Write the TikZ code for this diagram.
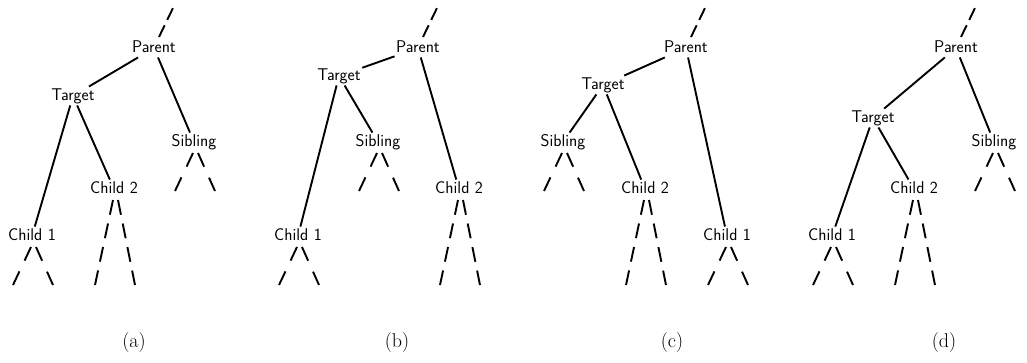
\documentclass[tikz,border=0pt]{standalone}
\usetikzlibrary{calc}
\begin{document}
\begin{tikzpicture}[x=1pt,y=-1pt]
\tikzset{
  lbl/.style={font=\sffamily\fontsize{17}{20}\selectfont, inner sep=1.5pt,
              text height=12pt, text depth=3.5pt},
  tedge/.style={line width=1.9pt},
  shortsub/.style={line width=1.9pt, dash pattern=on 15pt off 12pt},
  longsub/.style={line width=1.9pt, dash pattern=on 15pt off 9pt},
  upsub/.style={line width=1.9pt, dash pattern=on 13pt off 6pt},
  captext/.style={font=\fontsize{20}{24}\selectfont, inner sep=0pt}
}
% dashed pair of lines standing for the rest of a subtree below a node
\newcommand{\subtr}[3]{%
  \coordinate (#1-la) at ($(#1.center)+(-1,11)$);
  \coordinate (#1-ra) at ($(#1.center)+(4,11)$);
  \coordinate (#1-le) at ($(#1.center)+(-19,#2)$);
  \coordinate (#1-re) at ($(#1.center)+(21,#2)$);
  \draw[#3] (#1-la) -- (#1-le);
  \draw[#3] (#1-ra) -- (#1-re);
}
% dashed line from a parent up to the rest of the tree
\newcommand{\uptr}[1]{%
  \coordinate (#1-ua) at ($(#1.center)+(5,-11)$);
  \coordinate (#1-ue) at ($(#1.center)+(19,-40)$);
  \draw[upsub] (#1-ua) -- (#1-ue);
}
\useasboundingbox (0,0) rectangle (1027,362);

% ---------- (a) ----------
\node[lbl] (aP) at (154,48) {Parent};
\node[lbl] (aT) at (73,96) {Target};
\node[lbl] (aS) at (194,142) {Sibling};
\node[lbl] (aC2) at (114,189) {Child 2};
\node[lbl] (aC1) at (32,236) {Child 1};
\draw[tedge] (aP) -- (aT);
\draw[tedge] (aP) -- (aS);
\draw[tedge] (aT) -- (aC1);
\draw[tedge] (aT) -- (aC2);
\uptr{aP}
\subtr{aS}{49}{shortsub}
\subtr{aC2}{96}{longsub}
\subtr{aC1}{49}{shortsub}
\node[captext] (capa) at (134,343) {(a)};

% ---------- (b) ----------
\node[lbl] (bP) at (418,48) {Parent};
\node[lbl] (bT) at (339,76) {Target};
\node[lbl] (bS) at (378,142) {Sibling};
\node[lbl] (bC2) at (459,189) {Child 2};
\node[lbl] (bC1) at (298,236) {Child 1};
\draw[tedge] (bP) -- (bT);
\draw[tedge] (bP) -- (bC2);
\draw[tedge] (bT) -- (bC1);
\draw[tedge] (bT) -- (bS);
\uptr{bP}
\subtr{bS}{49}{shortsub}
\subtr{bC2}{96}{longsub}
\subtr{bC1}{49}{shortsub}
\node[captext] (capb) at (397,343) {(b)};

% ---------- (c) ----------
\node[lbl] (cP) at (686,48) {Parent};
\node[lbl] (cT) at (603,85) {Target};
\node[lbl] (cS) at (563,142) {Sibling};
\node[lbl] (cC2) at (645,189) {Child 2};
\node[lbl] (cC1) at (727,236) {Child 1};
\draw[tedge] (cP) -- (cT);
\draw[tedge] (cP) -- (cC1);
\draw[tedge] (cT) -- (cS);
\draw[tedge] (cT) -- (cC2);
\uptr{cP}
\subtr{cS}{49}{shortsub}
\subtr{cC2}{96}{longsub}
\subtr{cC1}{49}{shortsub}
\node[captext] (capc) at (672,343) {(c)};

% ---------- (d) ----------
\node[lbl] (dP) at (956,48) {Parent};
\node[lbl] (dT) at (873,118) {Target};
\node[lbl] (dS) at (994,142) {Sibling};
\node[lbl] (dC2) at (914,189) {Child 2};
\node[lbl] (dC1) at (832,236) {Child 1};
\draw[tedge] (dP) -- (dT);
\draw[tedge] (dP) -- (dS);
\draw[tedge] (dT) -- (dC1);
\draw[tedge] (dT) -- (dC2);
\uptr{dP}
\subtr{dS}{49}{shortsub}
\subtr{dC2}{96}{longsub}
\subtr{dC1}{49}{shortsub}
\node[captext] (capd) at (944,343) {(d)};
\end{tikzpicture}
\end{document}
